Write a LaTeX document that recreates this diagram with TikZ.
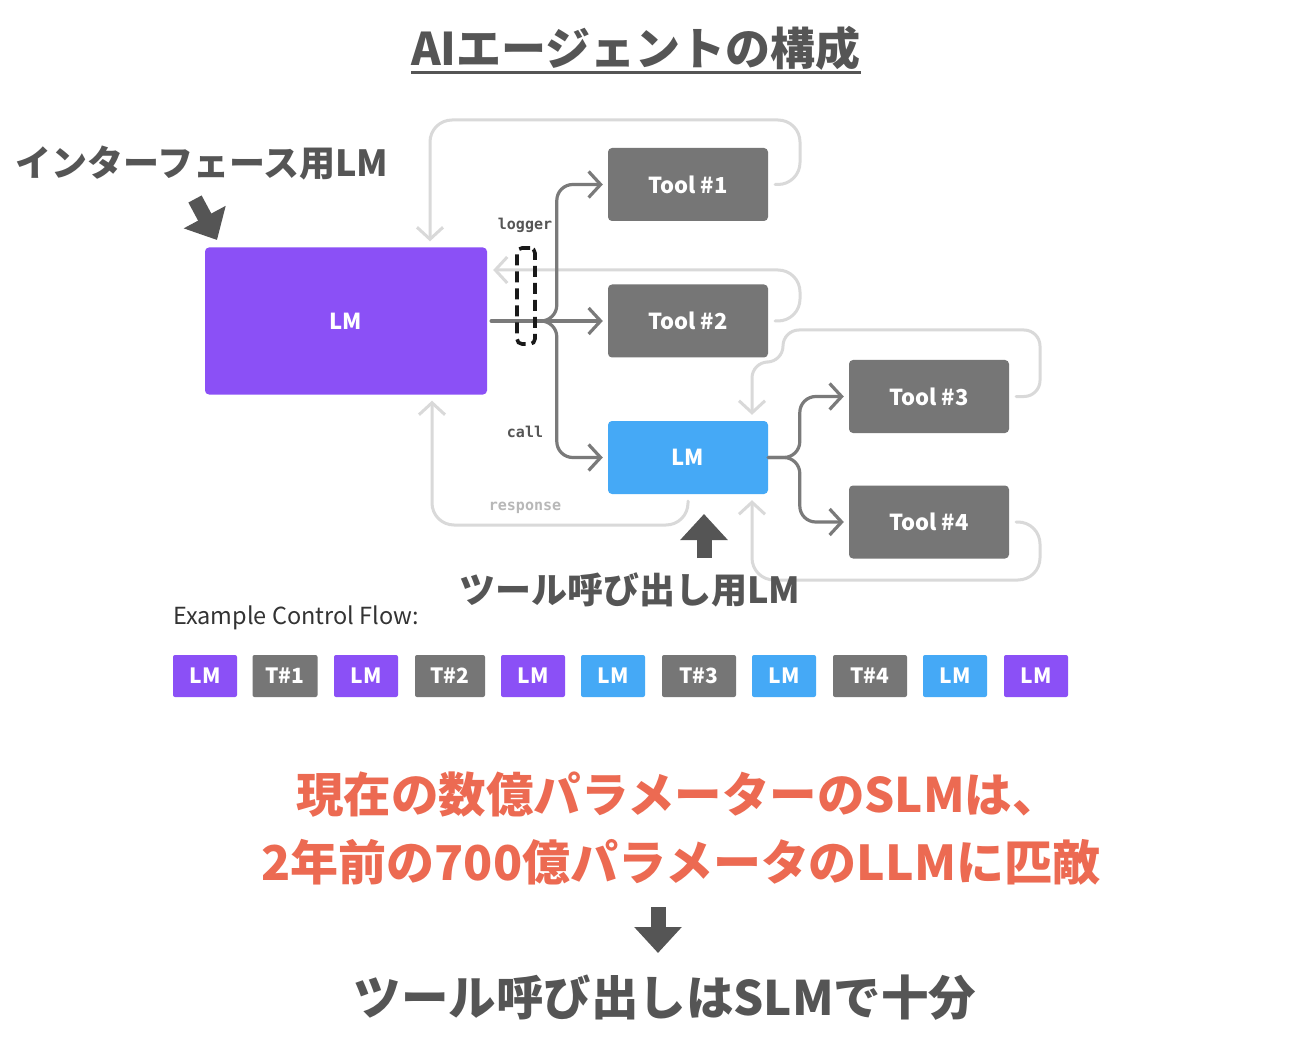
\documentclass[tikz,border=0pt]{standalone}
\usepackage{fontspec}
\setmainfont{Noto Sans CJK JP}
\setmonofont{DejaVu Sans Mono}
\usepackage{xcolor}
\definecolor{lmpurple}{HTML}{8B50F6}
\definecolor{lmblue}{HTML}{45A9F6}
\definecolor{toolgray}{HTML}{767676}
\definecolor{linegray}{HTML}{7A7A7A}
\definecolor{retgray}{HTML}{D9D9D9}
\definecolor{textgray}{HTML}{555555}
\definecolor{slmred}{HTML}{EC6A52}
\usetikzlibrary{arrows.meta}
\usetikzlibrary{positioning}

\begin{document}
\begin{tikzpicture}[x=1pt,y=-1pt, % AI agent
    box/.style={rounded corners=4pt, text=white, inner sep=0pt, font=\fontsize{22}{26}\selectfont\bfseries},
    tool/.style={box, fill=toolgray, minimum width=160pt, minimum height=73pt},
    chip/.style={rounded corners=2pt, text=white, inner sep=0pt, minimum height=42pt, font=\fontsize{21}{24}\selectfont\bfseries},
    call/.style={draw=linegray, line width=3.2pt, rounded corners=16pt, line cap=round, -{Straight Barb[length=12pt,width=26pt]}, shorten <=4pt, shorten >=5pt},
    ret/.style={draw=retgray, line width=3pt, rounded corners=22pt, line cap=round, -{Straight Barb[length=12pt,width=26pt]}, shorten <=7pt, shorten >=6pt},
    mono/.style={font=\fontsize{15}{17}\selectfont\ttfamily\bfseries, inner sep=0pt},
    jp/.style={font=\fontsize{#1}{#1}\selectfont\bfseries, inner sep=0pt},
    fat/.style={draw=textgray, line width=15pt, -{Triangle[length=26pt,width=46pt]}},
  ]

      \useasboundingbox (0,0) rectangle (1290,1064);
      \fill[white] (0,0) rectangle (1290,1064);

      \node[jp=45, text=textgray] (title) at (636,48) {AIエージェントの構成};
      \draw[textgray, line width=3pt] ([yshift=-2pt]title.south west) -- ([yshift=-2pt]title.south east);

      \node[box, fill=lmpurple, minimum width=282pt, minimum height=147pt] (lm) at (346,321) {LM};
      \node[tool] (t1) at (688,184.5) {Tool \#1};
      \node[tool] (t2) at (688,321) {Tool \#2};
      \node[box, fill=lmblue, minimum width=160pt, minimum height=73pt] (slm) at (688,457.5) {LM};
      \node[tool] (t3) at (929,396.5) {Tool \#3};
      \node[tool] (t4) at (929,522) {Tool \#4};

      % return paths
      \draw[ret] (t1.east) -| (800,120) -| ([xshift=84pt]lm.north);
      \draw[ret] (t2.east) -| (800,270) -- ([yshift=51pt]lm.east);
      \draw[ret, rounded corners=16pt] (t3.east) -| (1040,330) -| (783,362) -| ([xshift=64pt]slm.north);
      \draw[ret] (t4.east) -| (1040,580) -| ([xshift=64pt]slm.south);
      \draw[ret] (slm.south) |- (432,525) -- ([xshift=86pt]lm.south);

      % calls
      \draw[call] (lm.east) -- (t2.west);
      \draw[call] (lm.east) -| ([xshift=-51pt]t1.west) -- (t1.west);
      \draw[call] (lm.east) -| ([xshift=-51pt]slm.west) -- (slm.west);
      \draw[call, shorten <=0pt] (slm.east) -| ([xshift=-49pt]t3.west) -- (t3.west);
      \draw[call, shorten <=0pt] (slm.east) -| ([xshift=-49pt]t4.west) -- (t4.west);

      \node[draw=black!90, line width=3.6pt, dash pattern=on 11pt off 6pt, rounded corners=5pt,
        minimum width=18pt, minimum height=96pt, inner sep=0pt] (log) at (526,296) {};
      \node[mono, text=textgray] (loglbl) at (525,225) {logger};
      \node[mono, text=textgray] (calllbl) at (525,432) {call};
      \node[mono, text=retgray!85!black] (resplbl) at (525,508) {response};

      \node[jp=36, text=textgray] (iflbl) at (202,163) {インターフェース用LM};
      \coordinate (ifa) at (195,199);
      \coordinate (ifb) at (217,240);
      \draw[fat] (ifa) -- (ifb);

      \node[jp=36, text=textgray] (slmlbl) at (630,590) {ツール呼び出し用LM};
      \coordinate (upa) at (704,558);
      \coordinate (upb) at (704,514);
      \draw[fat] (upa) -- (upb);

      \node[font=\fontsize{23.5}{26}\selectfont, text=black!80, inner sep=0pt, anchor=west] (cflbl) at (173,618) {Example Control Flow:};
      \foreach \cx/\w/\lbl/\col [count=\i] in {205/64/LM/lmpurple, 285/65/T\#1/toolgray, 366/64/LM/lmpurple,
          450/70/T\#2/toolgray, 533/64/LM/lmpurple, 613/64/LM/lmblue, 699/74/T\#3/toolgray,
          784/64/LM/lmblue, 870/74/T\#4/toolgray, 955/64/LM/lmblue, 1036/64/LM/lmpurple}
        \node[chip, fill=\col, minimum width=\w pt] (c\i) at (\cx,676) {\lbl};

      \node[jp=47.5, text=slmred] (red1) at (678,795) {現在の数億パラメーターのSLMは、};
      \node[jp=48, text=slmred] (red2) at (681,862) {2年前の700億パラメータのLLMに匹敵};
      \coordinate (dna) at (658,907);
      \coordinate (dnb) at (658,953);
      \draw[fat] (dna) -- (dnb);
      \node[jp=47.5, text=textgray] (concl) at (665,998) {ツール呼び出しはSLMで十分};

    \end{tikzpicture}
\end{document}
